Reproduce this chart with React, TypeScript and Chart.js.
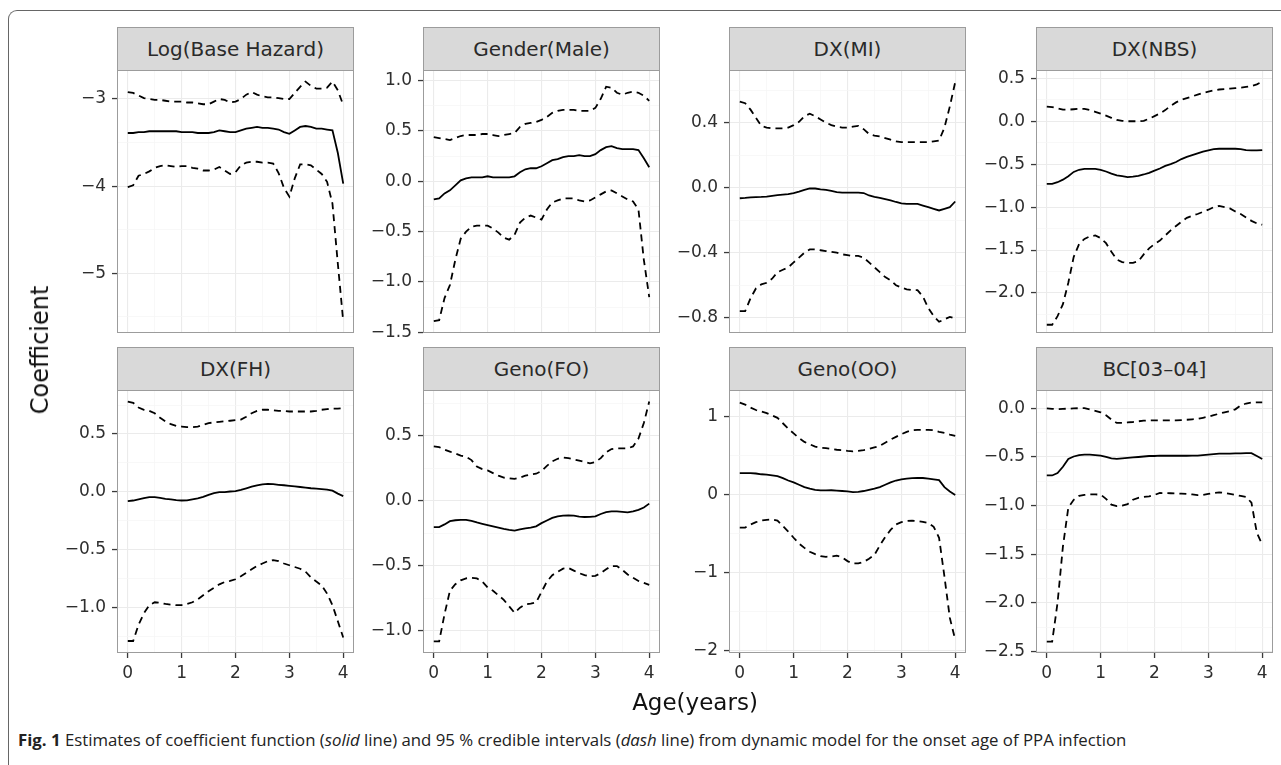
import React, { useEffect, useRef } from "react";
import { Chart, registerables } from "chart.js";

Chart.register(...registerables);

// ---------- data ----------
const AGE = [0, 0.1, 0.2, 0.3, 0.4, 0.5, 0.6, 0.7, 0.8, 0.9, 1, 1.1, 1.2, 1.3, 1.4, 1.5, 1.6, 1.7, 1.8, 1.9, 2, 2.1, 2.2, 2.3, 2.4, 2.5, 2.6, 2.7, 2.8, 2.9, 3, 3.1, 3.2, 3.3, 3.4, 3.5, 3.6, 3.7, 3.8, 3.9, 4];
const X_GRID = [0, 0.5, 1, 1.5, 2, 2.5, 3, 3.5, 4];
const X_LABELS = [0, 1, 2, 3, 4];

const TITLES = ["Log(Base Hazard)", "Gender(Male)", "DX(MI)", "DX(NBS)", "DX(FH)", "Geno(FO)", "Geno(OO)", "BC[03\u201304]"];

const LBH_EST = [-3.39, -3.39, -3.38, -3.38, -3.37, -3.37, -3.37, -3.37, -3.37, -3.37, -3.38, -3.38, -3.38, -3.39, -3.39, -3.39, -3.38, -3.36, -3.37, -3.38, -3.38, -3.36, -3.34, -3.33, -3.32, -3.33, -3.33, -3.34, -3.35, -3.38, -3.4, -3.36, -3.32, -3.31, -3.32, -3.34, -3.34, -3.35, -3.36, -3.62, -3.97];
const LBH_UP = [-2.92, -2.93, -2.96, -2.99, -3.0, -3.01, -3.01, -3.02, -3.03, -3.03, -3.03, -3.04, -3.04, -3.05, -3.06, -3.06, -3.03, -3.0, -3.01, -3.04, -3.03, -3.0, -2.95, -2.92, -2.95, -2.97, -2.98, -2.98, -2.99, -3.0, -3.0, -2.93, -2.86, -2.8, -2.85, -2.88, -2.88, -2.87, -2.8, -2.9, -3.07];
const LBH_LO = [-4.01, -3.99, -3.88, -3.86, -3.83, -3.79, -3.77, -3.76, -3.77, -3.78, -3.77, -3.77, -3.79, -3.8, -3.82, -3.82, -3.81, -3.78, -3.82, -3.86, -3.84, -3.76, -3.73, -3.72, -3.72, -3.73, -3.73, -3.74, -3.85, -4.02, -4.12, -3.91, -3.75, -3.75, -3.76, -3.81, -3.86, -3.95, -4.2, -4.89, -5.55];

const MALE_EST = [-0.18, -0.17, -0.12, -0.09, -0.04, 0.01, 0.03, 0.04, 0.04, 0.04, 0.05, 0.04, 0.04, 0.04, 0.04, 0.05, 0.09, 0.12, 0.13, 0.13, 0.15, 0.18, 0.21, 0.22, 0.24, 0.25, 0.25, 0.26, 0.25, 0.25, 0.27, 0.31, 0.34, 0.35, 0.33, 0.32, 0.32, 0.32, 0.31, 0.23, 0.14];
const MALE_UP = [0.44, 0.43, 0.42, 0.41, 0.43, 0.45, 0.46, 0.46, 0.46, 0.47, 0.47, 0.46, 0.45, 0.46, 0.47, 0.48, 0.54, 0.57, 0.58, 0.59, 0.61, 0.64, 0.68, 0.7, 0.71, 0.71, 0.71, 0.7, 0.7, 0.7, 0.73, 0.82, 0.94, 0.93, 0.88, 0.86, 0.88, 0.89, 0.88, 0.85, 0.8];
const MALE_LO = [-1.39, -1.38, -1.16, -1.03, -0.78, -0.57, -0.5, -0.45, -0.44, -0.44, -0.44, -0.47, -0.51, -0.56, -0.58, -0.53, -0.41, -0.36, -0.34, -0.36, -0.38, -0.28, -0.21, -0.19, -0.17, -0.17, -0.17, -0.19, -0.2, -0.19, -0.16, -0.13, -0.1, -0.09, -0.12, -0.15, -0.18, -0.2, -0.28, -0.78, -1.15];

const MI_EST = [-0.065, -0.063, -0.06, -0.058, -0.057, -0.055, -0.05, -0.046, -0.043, -0.04, -0.033, -0.024, -0.013, -0.005, -0.005, -0.01, -0.014, -0.02, -0.027, -0.03, -0.03, -0.03, -0.03, -0.033, -0.048, -0.057, -0.063, -0.07, -0.078, -0.088, -0.097, -0.1, -0.1, -0.1, -0.11, -0.12, -0.13, -0.14, -0.13, -0.12, -0.085];
const MI_UP = [0.53, 0.52, 0.48, 0.43, 0.38, 0.37, 0.365, 0.365, 0.365, 0.37, 0.385, 0.405, 0.44, 0.455, 0.44, 0.42, 0.4, 0.385, 0.375, 0.37, 0.37, 0.375, 0.38, 0.36, 0.33, 0.32, 0.315, 0.305, 0.295, 0.285, 0.28, 0.28, 0.28, 0.28, 0.28, 0.28, 0.285, 0.29, 0.37, 0.5, 0.65];
const MI_LO = [-0.76, -0.76, -0.68, -0.62, -0.595, -0.585, -0.56, -0.52, -0.505, -0.49, -0.46, -0.43, -0.4, -0.38, -0.38, -0.385, -0.39, -0.395, -0.4, -0.41, -0.415, -0.42, -0.42, -0.43, -0.46, -0.49, -0.52, -0.55, -0.57, -0.6, -0.615, -0.625, -0.63, -0.63, -0.67, -0.74, -0.79, -0.825, -0.81, -0.795, -0.805];

const NBS_EST = [-0.73, -0.73, -0.71, -0.68, -0.64, -0.59, -0.565, -0.555, -0.555, -0.555, -0.565, -0.585, -0.61, -0.63, -0.64, -0.65, -0.645, -0.635, -0.62, -0.6, -0.575, -0.55, -0.52, -0.5, -0.475, -0.44, -0.415, -0.395, -0.375, -0.355, -0.34, -0.325, -0.32, -0.32, -0.32, -0.32, -0.325, -0.335, -0.34, -0.34, -0.335];
const NBS_UP = [0.17, 0.165, 0.15, 0.135, 0.135, 0.14, 0.145, 0.145, 0.13, 0.11, 0.09, 0.065, 0.04, 0.015, 0.005, 0, 0, 0, 0.005, 0.03, 0.06, 0.09, 0.13, 0.18, 0.22, 0.25, 0.27, 0.29, 0.31, 0.33, 0.345, 0.36, 0.37, 0.375, 0.38, 0.385, 0.39, 0.4, 0.41, 0.43, 0.46];
const NBS_LO = [-2.37, -2.37, -2.27, -2.13, -1.88, -1.58, -1.43, -1.37, -1.34, -1.33, -1.36, -1.42, -1.52, -1.61, -1.64, -1.65, -1.65, -1.63, -1.55, -1.48, -1.43, -1.39, -1.33, -1.27, -1.22, -1.17, -1.125, -1.1, -1.08, -1.055, -1.03, -1.0, -0.985, -1.0, -1.015, -1.05, -1.08, -1.12, -1.16, -1.19, -1.205];

const FH_EST = [-0.08, -0.075, -0.065, -0.055, -0.045, -0.045, -0.052, -0.06, -0.066, -0.072, -0.075, -0.073, -0.065, -0.056, -0.043, -0.027, -0.012, -0.003, -0.002, 0.003, 0.006, 0.017, 0.031, 0.046, 0.057, 0.065, 0.069, 0.066, 0.061, 0.057, 0.052, 0.047, 0.042, 0.037, 0.031, 0.027, 0.023, 0.02, 0.01, -0.015, -0.037];
const FH_UP = [0.78, 0.77, 0.73, 0.71, 0.7, 0.68, 0.64, 0.61, 0.585, 0.57, 0.565, 0.56, 0.56, 0.565, 0.58, 0.595, 0.6, 0.605, 0.61, 0.615, 0.62, 0.625, 0.65, 0.68, 0.7, 0.71, 0.71, 0.705, 0.7, 0.7, 0.695, 0.695, 0.695, 0.695, 0.695, 0.7, 0.71, 0.715, 0.72, 0.72, 0.725];
const FH_LO = [-1.29, -1.29, -1.15, -1.05, -0.98, -0.955, -0.96, -0.97, -0.975, -0.98, -0.98, -0.97, -0.955, -0.93, -0.895, -0.86, -0.83, -0.8, -0.78, -0.77, -0.756, -0.73, -0.7, -0.67, -0.64, -0.62, -0.6, -0.59, -0.6, -0.62, -0.635, -0.65, -0.665, -0.69, -0.74, -0.775, -0.81, -0.88, -0.98, -1.12, -1.26];

const FO_EST = [-0.2, -0.2, -0.18, -0.155, -0.148, -0.145, -0.145, -0.152, -0.165, -0.175, -0.185, -0.195, -0.205, -0.215, -0.222, -0.228, -0.218, -0.21, -0.205, -0.195, -0.17, -0.15, -0.13, -0.118, -0.112, -0.11, -0.113, -0.12, -0.123, -0.122, -0.118, -0.1, -0.085, -0.08, -0.08, -0.083, -0.087, -0.08, -0.068, -0.05, -0.02];
const FO_UP = [0.42, 0.415, 0.395, 0.38, 0.365, 0.35, 0.34, 0.315, 0.265, 0.245, 0.235, 0.215, 0.195, 0.18, 0.175, 0.17, 0.18, 0.195, 0.205, 0.21, 0.23, 0.27, 0.305, 0.325, 0.335, 0.33, 0.32, 0.31, 0.3, 0.29, 0.3, 0.33, 0.375, 0.4, 0.405, 0.405, 0.405, 0.42, 0.48, 0.6, 0.765];
const FO_LO = [-1.08, -1.08, -0.87, -0.69, -0.64, -0.61, -0.595, -0.59, -0.595, -0.62, -0.665, -0.69, -0.725, -0.76, -0.81, -0.86, -0.82, -0.795, -0.79, -0.78, -0.7, -0.62, -0.57, -0.545, -0.52, -0.515, -0.535, -0.555, -0.57, -0.58, -0.575, -0.555, -0.525, -0.5, -0.5, -0.53, -0.565, -0.59, -0.615, -0.63, -0.645];

const OO_EST = [0.28, 0.28, 0.28, 0.275, 0.265, 0.26, 0.25, 0.24, 0.215, 0.185, 0.16, 0.13, 0.1, 0.08, 0.065, 0.057, 0.057, 0.06, 0.055, 0.05, 0.045, 0.036, 0.038, 0.05, 0.065, 0.08, 0.1, 0.13, 0.16, 0.185, 0.2, 0.21, 0.215, 0.217, 0.217, 0.21, 0.2, 0.19, 0.1, 0.045, 0.0];
const OO_UP = [1.185, 1.16, 1.12, 1.09, 1.07, 1.05, 1.02, 0.99, 0.92, 0.85, 0.79, 0.73, 0.68, 0.65, 0.62, 0.605, 0.6, 0.59, 0.58, 0.575, 0.565, 0.56, 0.565, 0.575, 0.59, 0.61, 0.63, 0.67, 0.71, 0.745, 0.78, 0.81, 0.83, 0.835, 0.835, 0.835, 0.83, 0.81, 0.795, 0.775, 0.758];
const OO_LO = [-0.42, -0.42, -0.38, -0.35, -0.33, -0.32, -0.315, -0.33, -0.4, -0.47, -0.55, -0.625, -0.68, -0.73, -0.76, -0.785, -0.795, -0.79, -0.78, -0.8, -0.85, -0.88, -0.88, -0.86, -0.82, -0.77, -0.65, -0.54, -0.45, -0.38, -0.35, -0.335, -0.33, -0.335, -0.345, -0.36, -0.41, -0.55, -1.05, -1.58, -1.86];

const BC_EST = [-0.69, -0.69, -0.665, -0.6, -0.52, -0.495, -0.48, -0.475, -0.475, -0.48, -0.487, -0.5, -0.515, -0.52, -0.515, -0.51, -0.505, -0.5, -0.495, -0.49, -0.49, -0.487, -0.487, -0.487, -0.487, -0.487, -0.487, -0.486, -0.485, -0.48, -0.475, -0.47, -0.466, -0.466, -0.465, -0.463, -0.462, -0.46, -0.46, -0.49, -0.52];
const BC_UP = [0, -0.005, -0.008, -0.005, -0.003, 0, 0.002, 0.002, -0.01, -0.025, -0.04, -0.07, -0.115, -0.15, -0.15, -0.145, -0.14, -0.133, -0.127, -0.123, -0.123, -0.123, -0.123, -0.123, -0.123, -0.12, -0.117, -0.113, -0.108, -0.097, -0.085, -0.07, -0.055, -0.04, -0.03, -0.01, 0.03, 0.05, 0.06, 0.062, 0.062];
const BC_LO = [-2.4, -2.4, -2.0, -1.42, -1.02, -0.94, -0.9, -0.89, -0.885, -0.885, -0.887, -0.93, -0.99, -1.005, -1.0, -0.985, -0.94, -0.92, -0.91, -0.905, -0.89, -0.87, -0.872, -0.873, -0.875, -0.877, -0.88, -0.885, -0.892, -0.89, -0.88, -0.87, -0.863, -0.87, -0.88, -0.89, -0.9, -0.91, -0.97, -1.28, -1.4];

// y-axis tick labels (major) and minor grid values per panel
const LBH_TICKS = [-5, -4, -3];
const MALE_TICKS = [-1.5, -1, -0.5, 0, 0.5, 1];
const MI_TICKS = [-0.8, -0.4, 0, 0.4];
const NBS_TICKS = [-2, -1.5, -1, -0.5, 0, 0.5];
const FH_TICKS = [-1, -0.5, 0, 0.5];
const FO_TICKS = [-1, -0.5, 0, 0.5];
const OO_TICKS = [-2, -1, 0, 1];
const BC_TICKS = [-2.5, -2, -1.5, -1, -0.5, 0];

const LBH_MINOR = [-5.5, -4.5, -3.5];
const MALE_MINOR = [-1.25, -0.75, -0.25, 0.25, 0.75];
const MI_MINOR = [-0.6, -0.2, 0.2, 0.6];
const NBS_MINOR = [-2.25, -1.75, -1.25, -0.75, -0.25, 0.25];
const FH_MINOR = [-1.25, -0.75, -0.25, 0.25, 0.75];
const FO_MINOR = [-0.75, -0.25, 0.25, 0.75];
const OO_MINOR = [-1.5, -0.5, 0.5];
const BC_MINOR = [-2.25, -1.75, -1.25, -0.75, -0.25];

type PanelDef = {
  est: number[]; up: number[]; lo: number[];
  min: number; max: number; ticks: number[]; minor: number[]; dec: number;
};

const PANELS: PanelDef[] = [
  { est: LBH_EST, up: LBH_UP, lo: LBH_LO, min: -5.685, max: -2.667, ticks: LBH_TICKS, minor: LBH_MINOR, dec: 0 },
  { est: MALE_EST, up: MALE_UP, lo: MALE_LO, min: -1.507, max: 1.106, ticks: MALE_TICKS, minor: MALE_MINOR, dec: 1 },
  { est: MI_EST, up: MI_UP, lo: MI_LO, min: -0.894, max: 0.724, ticks: MI_TICKS, minor: MI_MINOR, dec: 1 },
  { est: NBS_EST, up: NBS_UP, lo: NBS_LO, min: -2.466, max: 0.597, ticks: NBS_TICKS, minor: NBS_MINOR, dec: 1 },
  { est: FH_EST, up: FH_UP, lo: FH_LO, min: -1.394, max: 0.881, ticks: FH_TICKS, minor: FH_MINOR, dec: 1 },
  { est: FO_EST, up: FO_UP, lo: FO_LO, min: -1.169, max: 0.854, ticks: FO_TICKS, minor: FO_MINOR, dec: 1 },
  { est: OO_EST, up: OO_UP, lo: OO_LO, min: -2.03, max: 1.347, ticks: OO_TICKS, minor: OO_MINOR, dec: 0 },
  { est: BC_EST, up: BC_UP, lo: BC_LO, min: -2.516, max: 0.189, ticks: BC_TICKS, minor: BC_MINOR, dec: 1 },
];

// ---------- layout ----------
const PANEL_LEFT = [117, 423, 729, 1036];
const PW = 237;
const PH = 263;
const PLOT_TOP = [70, 390];
const STRIP_H = 43;
const AXW = 80;
const PADT = 14;
const PADR = 8;

const FONT = '"DejaVu Sans", "Liberation Sans", sans-serif';
const GRID_MAJOR = "#EBEBEB";
const GRID_MINOR = "#F5F5F5";
const TICK_COL = "#3a3a3a";
const BORDER = "#9c9c9c";

const has = (arr: number[], v: number) => arr.some((a) => Math.abs(a - v) < 1e-9);
const fmt = (v: number, dec: number) => (v < -1e-9 ? "\u2212" : "") + Math.abs(v).toFixed(dec);

function Panel({ def, col, row }: { def: PanelDef; col: number; row: number }) {
  const ref = useRef<HTMLCanvasElement>(null);
  const bottomRow = row === 1;
  const BOT = bottomRow ? 46 : 14;
  const cw = AXW + PW + PADR;
  const ch = PADT + PH + BOT;
  const left = PANEL_LEFT[col] - AXW;
  const top = PLOT_TOP[row] - PADT;

  useEffect(() => {
    const mk = (vals: number[], dashed: boolean) => ({
      data: AGE.map((x, i) => ({ x, y: vals[i] })),
      borderColor: "#000",
      borderWidth: 1.8,
      borderDash: dashed ? [7, 5] : [],
      pointRadius: 0,
      fill: false,
      tension: 0,
    });
    const yVals = [...def.ticks, ...def.minor].sort((a, b) => a - b);
    const chart = new Chart(ref.current as HTMLCanvasElement, {
      type: "line",
      data: { datasets: [mk(def.est, false), mk(def.up, true), mk(def.lo, true)] as any },
      options: {
        animation: false,
        responsive: false,
        maintainAspectRatio: false,
        events: [],
        layout: { padding: { left: 0, top: PADT, right: PADR, bottom: bottomRow ? 0 : BOT } },
        plugins: { legend: { display: false }, tooltip: { enabled: false }, title: { display: false } },
        scales: {
          x: {
            type: "linear",
            min: -0.2,
            max: 4.2,
            afterBuildTicks: (ax: any) => {
              ax.ticks = X_GRID.map((v) => ({ value: v }));
            },
            afterFit: (ax: any) => {
              ax.height = bottomRow ? BOT : 0;
              ax.paddingLeft = 0;
              ax.paddingRight = 0;
            },
            border: { display: false },
            grid: {
              color: (c: any) => (c.tick && has(X_LABELS, c.tick.value) ? GRID_MAJOR : GRID_MINOR),
              lineWidth: (c: any) => (c.tick && has(X_LABELS, c.tick.value) ? 1.1 : 0.7),
              drawTicks: bottomRow,
              tickLength: 5,
              tickColor: (c: any) => (c.tick && has(X_LABELS, c.tick.value) ? TICK_COL : "rgba(0,0,0,0)"),
              tickWidth: 1.3,
            },
            ticks: {
              display: bottomRow,
              autoSkip: false,
              maxRotation: 0,
              padding: 5,
              color: "#2e2e2e",
              font: { family: FONT, size: 17 },
              callback: (v: any) => (has(X_LABELS, Number(v)) ? String(v) : ""),
            },
          },
          y: {
            type: "linear",
            min: def.min,
            max: def.max,
            afterBuildTicks: (ax: any) => {
              ax.ticks = yVals.map((v) => ({ value: v }));
            },
            afterFit: (ax: any) => {
              ax.width = AXW;
              ax.paddingTop = 0;
              ax.paddingBottom = 0;
            },
            border: { display: false },
            grid: {
              color: (c: any) => (c.tick && has(def.ticks, c.tick.value) ? GRID_MAJOR : GRID_MINOR),
              lineWidth: (c: any) => (c.tick && has(def.ticks, c.tick.value) ? 1.1 : 0.7),
              drawTicks: true,
              tickLength: 5,
              tickColor: (c: any) => (c.tick && has(def.ticks, c.tick.value) ? TICK_COL : "rgba(0,0,0,0)"),
              tickWidth: 1.3,
            },
            ticks: {
              autoSkip: false,
              padding: 6,
              color: "#2e2e2e",
              font: { family: FONT, size: 17 },
              callback: (v: any) => (has(def.ticks, Number(v)) ? fmt(Number(v), def.dec) : ""),
            },
          },
        },
      } as any,
    });
    return () => chart.destroy();
  }, []);

  return (
    <>
      <canvas
        ref={ref}
        width={cw}
        height={ch}
        style={{ position: "absolute", left, top, width: cw, height: ch }}
      />
      <div
        style={{
          position: "absolute",
          left: PANEL_LEFT[col],
          top: PLOT_TOP[row],
          width: PW,
          height: PH,
          border: `1px solid ${BORDER}`,
          boxSizing: "border-box",
          pointerEvents: "none",
        }}
      />
      <div
        style={{
          position: "absolute",
          left: PANEL_LEFT[col],
          top: PLOT_TOP[row] - STRIP_H,
          width: PW,
          height: STRIP_H + 1,
          background: "#D9D9D9",
          border: `1px solid ${BORDER}`,
          boxSizing: "border-box",
          display: "flex",
          alignItems: "center",
          justifyContent: "center",
          fontFamily: FONT,
          fontSize: 20,
          color: "#2a2a2a",
          whiteSpace: "nowrap",
        }}
      >
        {TITLES[row * 4 + col]}
      </div>
    </>
  );
}

export default function App() {
  return (
    <div
      style={{
        position: "absolute",
        left: 0,
        top: 0,
        width: 1281,
        height: 765,
        overflow: "hidden",
        background: "#fff",
      }}
    >
      <div
        style={{
          position: "absolute",
          left: 8,
          top: 10,
          width: 1400,
          height: 1000,
          borderTop: "1.5px solid #666",
          borderLeft: "1.5px solid #666",
          borderTopLeftRadius: 9,
        }}
      />
      {PANELS.map((def, i) => (
        <Panel key={i} def={def} col={i % 4} row={Math.floor(i / 4)} />
      ))}
      <div
        style={{
          position: "absolute",
          left: 40,
          top: 350,
          transform: "translate(-50%, -50%) rotate(-90deg)",
          fontFamily: FONT,
          fontSize: 24,
          color: "#111",
          whiteSpace: "nowrap",
          lineHeight: 1,
        }}
      >
        Coefficient
      </div>
      <div
        style={{
          position: "absolute",
          left: 695,
          top: 691,
          transform: "translateX(-50%)",
          fontFamily: FONT,
          fontSize: 23,
          color: "#111",
          whiteSpace: "nowrap",
          lineHeight: "23px",
        }}
      >
        Age(years)
      </div>
      <div
        style={{
          position: "absolute",
          left: 18,
          top: 729,
          fontFamily: '"Open Sans", "Noto Sans", sans-serif',
          fontSize: 16.8,
          color: "#222",
          whiteSpace: "nowrap",
          lineHeight: "22px",
        }}
      >
        <b>Fig. 1</b> Estimates of coefficient function (<i>solid</i> line) and 95 % credible intervals (<i>dash</i> line) from dynamic model for the onset age of PPA infection
      </div>
    </div>
  );
}
